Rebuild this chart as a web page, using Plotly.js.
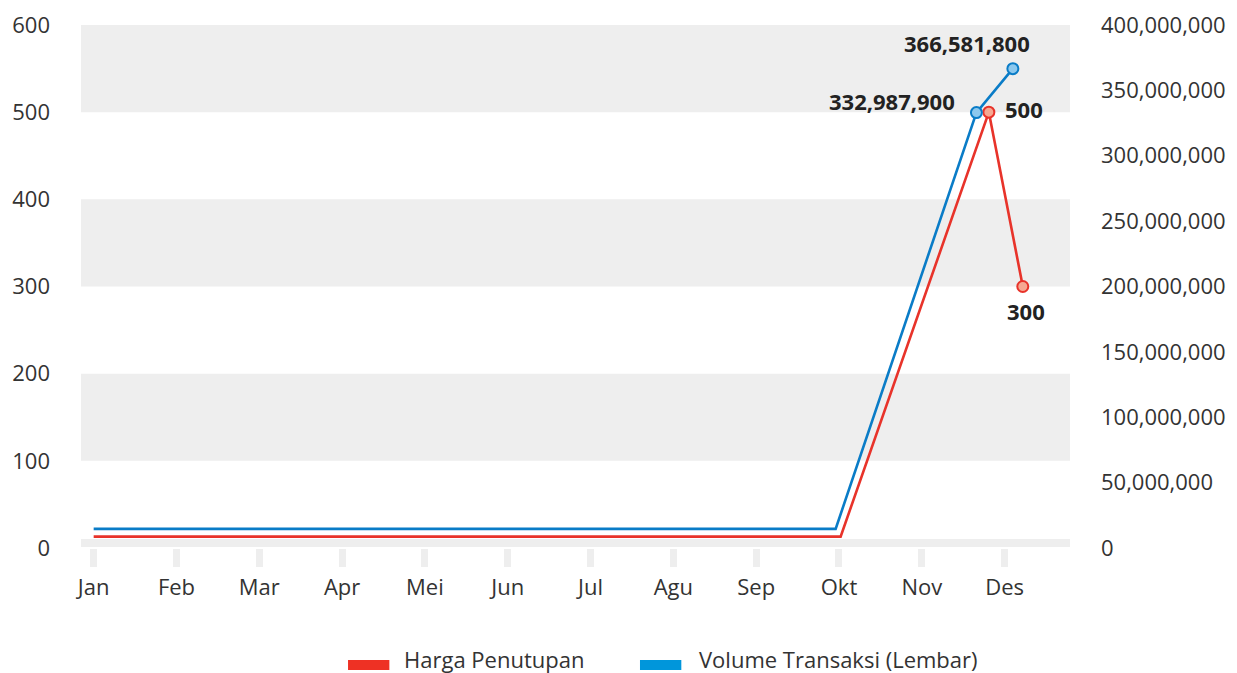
<!DOCTYPE html>
<html>
<head>
<meta charset="utf-8">
<script src="https://cdn.plot.ly/plotly-3.0.1.min.js"></script>
<style>html,body{margin:0;padding:0;background:#fff;}#chart{width:1237px;height:673px;}</style>
</head>
<body>
<div id="chart"></div>
<script>
// ---- data ----
const months = ['Jan','Feb','Mar','Apr','Mei','Jun','Jul','Agu','Sep','Okt','Nov','Des'];
const monthIdx = [0,1,2,3,4,5,6,7,8,9,10,11];

const seriesNames = ['Harga Penutupan', 'Volume Transaksi (Lembar)'];

// position along the month axis (month index) and value
const hargaPos = [0,1,2,3,4,5,6,7,8,9.02,10.81,11.22];
const hargaVal = [13,13,13,13,13,13,13,13,13,13,500,300];

const volumePos = [0,1,2,3,4,5,6,7,8,8.96,10.66,11.10];
const volumeVal = [14600000,14600000,14600000,14600000,14600000,14600000,14600000,14600000,14600000,14600000,332987900,366581800];

const labelIdx = [10, 11];

const leftTicks = [0,100,200,300,400,500,600];
const rightTicks = [0,50000000,100000000,150000000,200000000,250000000,300000000,350000000,400000000];
const bandLo = [100,300,500];
const bandHi = [200,400,600];

// ---- styles ----
const RED = '#e8332a', BLUE = '#0a7cc7';
const RED_FILL = '#f6a892', BLUE_FILL = '#8cc8ee';
const FONT = '"Open Sans", "Liberation Sans", sans-serif';
const TXT = '#333333';
const FS = 22;

const markerOpacity = hargaPos.map((_, i) => labelIdx.includes(i) ? 1 : 0);

const traces = [
  {
    x: hargaPos, y: hargaVal, name: seriesNames[0], type: 'scatter', mode: 'lines+markers',
    yaxis: 'y', line: {color: RED, width: 2.6},
    marker: {size: 11, color: RED_FILL, opacity: markerOpacity, line: {color: RED, width: 2}},
    showlegend: false, hoverinfo: 'skip'
  },
  {
    x: volumePos, y: volumeVal, name: seriesNames[1], type: 'scatter', mode: 'lines+markers',
    yaxis: 'y2', line: {color: BLUE, width: 2.6},
    marker: {size: 11, color: BLUE_FILL, opacity: markerOpacity, line: {color: BLUE, width: 2}},
    showlegend: false, hoverinfo: 'skip'
  }
];

const fmt = v => v.toLocaleString('en-US');
const labelFont = {family: FONT, size: FS, color: '#222222', weight: 'bold'};

// per-label placement (style only)
const hargaLabelStyle = [
  {xanchor: 'left', yanchor: 'middle', xshift: 14, yshift: 3},
  {xanchor: 'center', yanchor: 'middle', xshift: 3, yshift: -24}
];
const volumeLabelStyle = [
  {xanchor: 'right', yanchor: 'middle', xshift: -19, yshift: 12},
  {xanchor: 'center', yanchor: 'middle', xshift: -46, yshift: 26}
];

const annotations = [];
labelIdx.forEach((i, k) => {
  annotations.push(Object.assign({
    x: hargaPos[i], y: hargaVal[i], xref: 'x', yref: 'y',
    text: '<b>' + fmt(hargaVal[i]) + '</b>', showarrow: false, font: labelFont
  }, hargaLabelStyle[k]));
  annotations.push(Object.assign({
    x: volumePos[i], y: volumeVal[i], xref: 'x', yref: 'y2',
    text: '<b>' + fmt(volumeVal[i]) + '</b>', showarrow: false, font: labelFont
  }, volumeLabelStyle[k]));
});

// custom legend
const legendColors = ['#ee3124', '#0096db'];
const legendX = [0.270, 0.5652];
const legendSwatchW = 0.0418;
const legendTextX = [0.3246, 0.6229];
const legendSwatchY = [-0.2333, -0.2141];
const legendTextY = -0.2122;
const shapes = [];
bandLo.forEach((lo, k) => {
  shapes.push({type: 'rect', xref: 'paper', yref: 'y', x0: 0, x1: 1, y0: lo, y1: bandHi[k],
    fillcolor: '#eeeeee', line: {width: 0}, layer: 'below'});
});
// x axis base bar
shapes.push({type: 'rect', xref: 'paper', yref: 'paper', x0: 0, x1: 1, ysizemode: 'pixel', yanchor: 0,
  y0: 1, y1: 9, fillcolor: '#eeeeee', line: {width: 0}, layer: 'below'});
seriesNames.forEach((n, k) => {
  shapes.push({type: 'rect', xref: 'paper', yref: 'paper', x0: legendX[k], x1: legendX[k] + legendSwatchW,
    y0: legendSwatchY[0], y1: legendSwatchY[1], fillcolor: legendColors[k], line: {width: 0}});
  annotations.push({xref: 'paper', yref: 'paper', x: legendTextX[k], y: legendTextY,
    xanchor: 'left', yanchor: 'middle', text: n, showarrow: false,
    font: {family: FONT, size: FS, color: TXT}});
});

const layout = {
  width: 1237, height: 673,
  margin: {l: 81, r: 167, t: 25, b: 125},
  paper_bgcolor: '#ffffff', plot_bgcolor: '#ffffff',
  font: {family: FONT, size: FS, color: TXT},
  showlegend: false,
  xaxis: {
    range: [-0.153, 11.79], tickvals: monthIdx, ticktext: months,
    showgrid: false, zeroline: false, showline: false,
    ticks: 'outside', ticklen: 18, tickwidth: 7, tickcolor: '#eeeeee', ticklabelstandoff: 2,
    tickfont: {family: FONT, size: FS, color: TXT}, fixedrange: true
  },
  yaxis: {
    range: [0, 600], tickvals: leftTicks, showgrid: false, zeroline: false, showline: false,
    ticks: '', ticklabelstandoff: 30, tickfont: {family: FONT, size: FS, color: TXT}
  },
  yaxis2: {
    range: [0, 400000000], tickvals: rightTicks, tickformat: ',d', overlaying: 'y', side: 'right',
    showgrid: false, zeroline: false, showline: false, ticks: '', ticklabelstandoff: 30,
    tickfont: {family: FONT, size: FS, color: TXT}
  },
  shapes: shapes,
  annotations: annotations
};

Plotly.newPlot('chart', traces, layout, {displayModeBar: false, staticPlot: true});
</script>
</body>
</html>
